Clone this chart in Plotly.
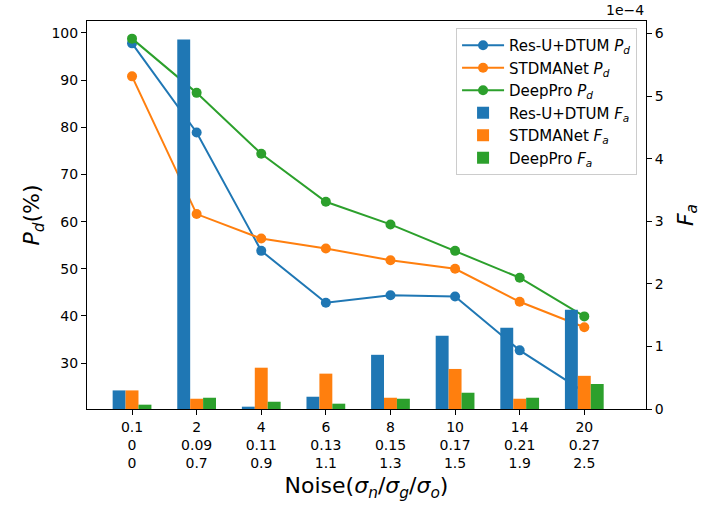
import plotly.graph_objects as go

# ---- data ----
noise_n = ["0.1", "2", "4", "6", "8", "10", "14", "20"]
noise_g = ["0", "0.09", "0.11", "0.13", "0.15", "0.17", "0.21", "0.27"]
noise_o = ["0", "0.7", "0.9", "1.1", "1.3", "1.5", "1.9", "2.5"]

pd_resu = [97.8, 78.9, 53.8, 42.8, 44.4, 44.1, 32.7, 23.9]
pd_stdma = [90.8, 61.6, 56.4, 54.3, 51.8, 50.0, 43.0, 37.6]
pd_deeppro = [98.8, 87.3, 74.4, 64.2, 59.4, 53.8, 48.1, 39.9]

fa_resu = [0.297e-4, 5.905e-4, 0.037e-4, 0.196e-4, 0.866e-4, 1.17e-4, 1.30e-4, 1.585e-4]
fa_stdma = [0.297e-4, 0.164e-4, 0.66e-4, 0.565e-4, 0.18e-4, 0.64e-4, 0.164e-4, 0.53e-4]
fa_deeppro = [0.069e-4, 0.18e-4, 0.116e-4, 0.085e-4, 0.164e-4, 0.26e-4, 0.18e-4, 0.40e-4]

FA_SCALE = 1e-4
colors = ["#1f77b4", "#ff7f0e", "#2ca02c"]
names = ["Res-U+DTUM", "STDMANet", "DeepPro"]

xpos = list(range(len(noise_n)))
ticktext = [f"{a}<br>{b}<br>{c}" for a, b, c in zip(noise_n, noise_g, noise_o)]

fig = go.Figure()
for name, vals, c in zip(names, [pd_resu, pd_stdma, pd_deeppro], colors):
    fig.add_trace(go.Scatter(
        x=xpos, y=vals, mode="lines+markers", name=f"{name} <i>P</i><sub><i>d</i></sub>",
        line=dict(color=c, width=2), marker=dict(color=c, size=10),
        xaxis="x", yaxis="y"))
for name, vals, c in zip(names, [fa_resu, fa_stdma, fa_deeppro], colors):
    fig.add_trace(go.Bar(
        x=xpos, y=[v / FA_SCALE for v in vals], name=f"{name} <i>F</i><sub><i>a</i></sub>",
        marker=dict(color=c, line=dict(width=0)), xaxis="x", yaxis="y2"))

font = "DejaVu Sans"
fig.update_layout(
    width=725, height=508,
    margin=dict(l=87, r=79, t=21, b=99),
    paper_bgcolor="white", plot_bgcolor="white",
    font=dict(family=font, size=14, color="black"),
    barmode="group", bargap=0.4, bargroupgap=0,
    showlegend=True,
    legend=dict(x=0.984, y=0.982, xanchor="right", yanchor="top",
                bgcolor="rgba(255,255,255,0.8)", bordercolor="#cccccc", borderwidth=1,
                font=dict(size=15, family=font), traceorder="normal", itemwidth=42),
    xaxis=dict(range=[-0.697, 7.955], tickvals=xpos, ticktext=ticktext,
               ticks="outside", ticklen=5, tickcolor="black",
               showline=True, linecolor="black", linewidth=1, mirror=True,
               showgrid=False, zeroline=False,
               title=dict(text="Noise(<i>σ</i><sub><i>n</i></sub>/<i>σ</i><sub><i>g</i></sub>/<i>σ</i><sub><i>o</i></sub>)",
                          font=dict(size=22), standoff=7)),
    yaxis=dict(range=[20.26, 102.54], tickvals=list(range(30, 101, 10)),
               ticks="outside", ticklen=5, tickcolor="black",
               showline=True, linecolor="black", linewidth=1,
               showgrid=False, zeroline=False,
               title=dict(text="<i>P</i><sub><i>d</i></sub>(%)", font=dict(size=22), standoff=5)),
    yaxis2=dict(range=[0, 6.2], tickvals=list(range(0, 7)), overlaying="y", side="right",
                ticks="outside", ticklen=5, tickcolor="black",
                showline=True, linecolor="black", linewidth=1,
                showgrid=False, zeroline=False,
                title=dict(text="<i>F</i><sub><i>a</i></sub>", font=dict(size=22), standoff=14)),
)
fig.add_annotation(text="1e−4", xref="paper", yref="paper", x=1.0, y=1.0,
                   xanchor="right", yanchor="bottom", showarrow=False,
                   font=dict(size=14, family=font), yshift=1)

fig.write_html("out.html")
